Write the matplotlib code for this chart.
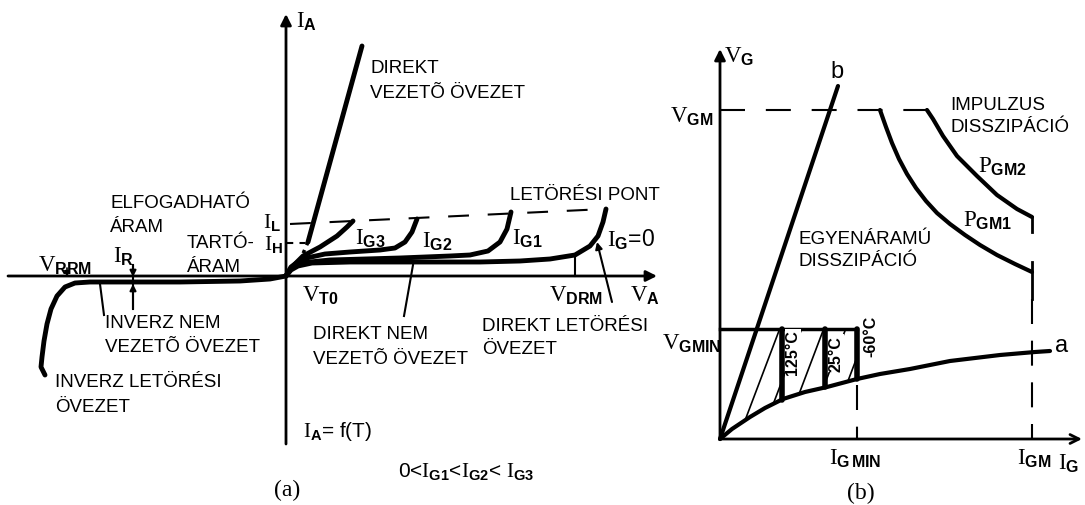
import numpy as np
import matplotlib.pyplot as plt
from matplotlib.patches import Polygon

plt.rcParams['font.family'] = ['Liberation Sans', 'DejaVu Sans']
plt.rcParams['mathtext.fontset'] = 'custom'
plt.rcParams['mathtext.rm'] = 'Liberation Serif'
plt.rcParams['mathtext.bf'] = 'Liberation Sans:bold'
plt.rcParams['mathtext.it'] = 'Liberation Serif:italic'

# (a) anode characteristic, units measured from the axis crossing
ig0_u = [0, 5, 12, 26, 64, 134, 194, 234, 264, 289, 304, 312, 317, 320]
ig0_v = [0, 6, 10, 13, 14, 14, 14, 15, 17, 21, 30, 40, 54, 67]
ig1_u = [0, 5, 14, 44, 114, 164, 184, 202, 214, 221, 225]
ig1_v = [0, 8, 13, 16, 18, 20, 21, 25, 34, 47, 64]
ig2_u = [0, 5, 16, 39, 64, 94, 109, 119, 126, 131]
ig2_v = [0, 9, 17, 22, 24, 26, 28, 34, 44, 57]
ig3_u = [0, 6, 17, 34, 51, 61, 67]
ig3_v = [0, 9, 20, 29, 40, 49, 55]
rev_u = [0, -16, -46, -106, -166, -196, -211, -221, -229, -235, -239, -242, -244, -245, -241]
rev_v = [0, -3, -5, -6, -6, -6, -7, -11, -20, -33, -48, -65, -81, -91, -99]
on_u = [22, 76]          # direkt vezető ág
on_v = [34, 230]
il_u, il_v = [4, 319], [52, 67]    # I_L szint
ih_u, ih_v = [1, 20], [33, 33]     # I_H szint

# (b) gate characteristic, units measured from the origin
b_p, b_q = [0, 118], [0, 353]
a_p = [0, 12, 30, 45, 63, 85, 107, 137, 160, 190, 230, 280, 315, 330]
a_q = [0, 10, 22, 31, 40, 47, 52, 60, 65, 70, 78, 84, 87, 88]
pgm1_p = [160, 166, 172, 179, 187, 196, 206, 217, 230, 245, 260, 277, 295, 312]
pgm1_q = [329, 312, 296, 280, 265, 251, 238, 226, 215, 204, 194, 184, 175, 167]
pgm2_p = [207, 213, 223, 237, 257, 277, 297, 312]
pgm2_q = [329, 320, 303, 283, 263, 244, 230, 222]
v_gm = 329
v_gmin = 110
i_gmin = 137
i_gm = 312
temp_p = [62, 105, 137]              # 125 °C, 25 °C, -60 °C határok
temp_labels = ['125°C', '25°C', '-60°C']

fig = plt.figure(figsize=(10.85, 5.06), dpi=100)
ax = fig.add_axes([0, 0, 1, 1])
ax.set_xlim(-286, 1085 - 286)
ax.set_ylim(-(506 - 277), 277)
ax.axis('off')
bx = fig.add_axes([0, 0, 1, 1])
bx.set_xlim(-720, 1085 - 720)
bx.set_ylim(-(506 - 440), 440)
bx.axis('off')
bx.patch.set_alpha(0)


def curve(a, x, y, lw=3.5, **kw):
    a.plot(x, y, color='black', lw=lw, solid_capstyle='round',
           solid_joinstyle='round', **kw)


def arrow(a, start, end, style='-|>', lw=1.5, ms=12):
    a.annotate('', xy=end, xytext=start,
               arrowprops=dict(arrowstyle=style, color='black', lw=lw,
                               mutation_scale=ms, shrinkA=0, shrinkB=0))


def words(a, x, y, lines, size=13.5, step=25):
    for i, s in enumerate(lines):
        a.text(x, y - i * step, s, fontsize=size, ha='left', va='center')


def sym(a, x, y, s, size=16.5, **kw):
    a.text(x, y, s, fontsize=size, ha='left', va='baseline', **kw)


# ---------------- (a) ----------------
arrow(ax, (0, -168), (0, 262), lw=2, ms=16)
arrow(ax, (-278, 0), (371, 0), lw=2, ms=16)

for u, v in [(rev_u, rev_v), (ig0_u, ig0_v), (ig1_u, ig1_v),
             (ig2_u, ig2_v), (ig3_u, ig3_v), (on_u, on_v)]:
    curve(ax, u, v)
ax.plot([on_u[0], on_u[0] - 6], [on_v[0], on_v[0] - 14], color='black',
        lw=2.5, ls=(0, (1, 1.5)))

ax.plot(il_u, il_v, color='black', lw=1.5, ls=(0, (10, 9)))
ax.plot(ih_u, ih_v, color='black', lw=1.5, ls=(0, (3, 3)))

# leader lines and markers
ax.plot([-186, -182], [-8, -39], color='black', lw=1.5)
ax.plot([-153, -153], [11, -33], color='black', lw=1.5)
arrow(ax, (-153, 11), (-153, -1), lw=1.5, ms=9)
arrow(ax, (-153, -33), (-153, -8), lw=1.5, ms=9)
ax.plot([118, 127], [-40, 11], color='black', lw=1.5)
arrow(ax, (326, -26), (311, 34), lw=1.5, ms=10)
ax.plot([289, 289], [0, 19], color='black', lw=1.5)
arrow(ax, (-219, 8), (-219, -1), lw=1.2, ms=8)

words(ax, -176, 74, ['ELFOGADHATÓ', 'ÁRAM'])
words(ax, -99, 34, ['TARTÓ-', 'ÁRAM'])
words(ax, -181, -46, ['INVERZ NEM', 'VEZETÕ ÖVEZET'])
words(ax, -231, -106, ['INVERZ LETÖRÉSI', 'ÖVEZET'])
words(ax, 84, 209, ['DIREKT', 'VEZETÕ ÖVEZET'])
words(ax, 224, 82, ['LETÖRÉSI PONT'])
words(ax, 27, -58, ['DIREKT NEM', 'VEZETÕ ÖVEZET'])
words(ax, 196, -50, ['DIREKT LETÖRÉSI', 'ÖVEZET'], step=23)

sym(ax, 10, 249, r'$\mathrm{I}_{\mathbf{A}}$')
sym(ax, -23, 49, r'$\mathrm{I}_{\mathbf{L}}$', size=15.5)
sym(ax, -22, 27, r'$\mathrm{I}_{\mathbf{H}}$', size=15.5)
sym(ax, 69, 32, r'$\mathrm{I}_{\mathbf{G3}}$')
sym(ax, 136, 29, r'$\mathrm{I}_{\mathbf{G2}}$')
sym(ax, 226, 32, r'$\mathrm{I}_{\mathbf{G1}}$')
sym(ax, 321, 30, r'$\mathrm{I}_{\mathbf{G}}$=0', size=16.5)
sym(ax, 16, -25, r'$\mathrm{V}_{\mathbf{T0}}$')
sym(ax, 263, -25, r'$\mathrm{V}_{\mathbf{DRM}}$')
sym(ax, 344, -25, r'$\mathrm{V}_{\mathbf{A}}$')
sym(ax, -248, 5, r'$\mathrm{V}_{\mathbf{RRM}}$')
sym(ax, -173, 14, r'$\mathrm{I}_{\mathbf{R}}$')
sym(ax, 17, -160, r'$\mathrm{I}_{\mathbf{A}}$= f(T)', size=15)
sym(ax, 112, -200,
    r'0<$\mathrm{I}_{\mathbf{G1}}$<$\mathrm{I}_{\mathbf{G2}}$< $\mathrm{I}_{\mathbf{G3}}$',
    size=15)
ax.text(1, -213, '(a)', fontsize=17, family='Liberation Serif',
        ha='center', va='center')

# ---------------- (b) ----------------
arrow(bx, (0, 0), (0, 390), lw=2, ms=16)
arrow(bx, (0, 0), (362, 0), style='->', lw=2, ms=16)

curve(bx, b_p, b_q, lw=3)
curve(bx, a_p, a_q, lw=3)
curve(bx, pgm1_p, pgm1_q, lw=3)
curve(bx, pgm2_p, pgm2_q, lw=3)
bx.plot([0, 207], [v_gm, v_gm], color='black', lw=1.5, ls=(0, (12, 10)))
bx.plot([i_gm, i_gm], [pgm2_q[-1], pgm2_q[-1] - 15], color='black', lw=2)
bx.plot([i_gm, i_gm], [pgm1_q[-1] + 10, 140], color='black', lw=2)
bx.plot([i_gm, i_gm], [140, 0], color='black', lw=1.5, ls=(0, (12, 8)))
bx.plot([i_gmin, i_gmin], [np.interp(i_gmin, a_p, a_q) - 6, 0],
        color='black', lw=1.5, ls=(0, (12, 8)))

# hatched region between line b, V_GMIN and curve a
p_top = b_p[1] * v_gmin / b_q[1]
inner_p = [p for p in a_p if p < i_gmin]
inner_q = [q for p, q in zip(a_p, a_q) if p < i_gmin]
region = ([(0, 0), (p_top, v_gmin), (i_gmin, v_gmin),
           (i_gmin, np.interp(i_gmin, a_p, a_q))]
          + list(zip(inner_p[::-1], inner_q[::-1])))
clip = Polygon(region, closed=True, fill=False, lw=0)
bx.add_patch(clip)
for c in np.arange(-70, 150, 22):
    ln, = bx.plot([c, c + 50], [0, 132], color='black', lw=1.2)
    ln.set_clip_path(clip)
bx.plot([0, i_gmin], [v_gmin, v_gmin], color='black', lw=2.5)
for p in temp_p:
    curve(bx, [p, p], [v_gmin, np.interp(p, a_p, a_q)], lw=4)

for p, s, q in zip([73, 116, 151], temp_labels, [87, 86, 104]):
    bx.text(p, q, s, fontsize=11.5, fontweight='bold', rotation=90,
            ha='center', va='center',
            bbox=dict(boxstyle='square,pad=0.05', fc='white', ec='none'))

words(bx, 230, 335, ['IMPULZUS', 'DISSZIPÁCIÓ'], step=23)
words(bx, 78, 200, ['EGYENÁRAMÚ', 'DISSZIPÁCIÓ'], step=22)

sym(bx, 4, 377, r'$\mathrm{V}_{\mathbf{G}}$')
sym(bx, -50, 317, r'$\mathrm{V}_{\mathbf{GM}}$')
sym(bx, -58, 90, r'$\mathrm{V}_{\mathbf{GMIN}}$')
sym(bx, 109, -25, r'$\mathrm{I}_{\mathbf{G\,MIN}}$')
sym(bx, 297, -25, r'$\mathrm{I}_{\mathbf{GM}}$')
sym(bx, 338, -30, r'$\mathrm{I}_{\mathbf{G}}$')
sym(bx, 243, 213, r'$\mathrm{P}_{\mathbf{GM1}}$')
sym(bx, 258, 267, r'$\mathrm{P}_{\mathbf{GM2}}$')
bx.text(342, 94, 'a', fontsize=17, ha='center', va='center')
bx.text(117, 368, 'b', fontsize=17, ha='center', va='center')
bx.text(141, -53, '(b)', fontsize=17, family='Liberation Serif',
        ha='center', va='center')

fig.savefig('out.png', dpi=100)
